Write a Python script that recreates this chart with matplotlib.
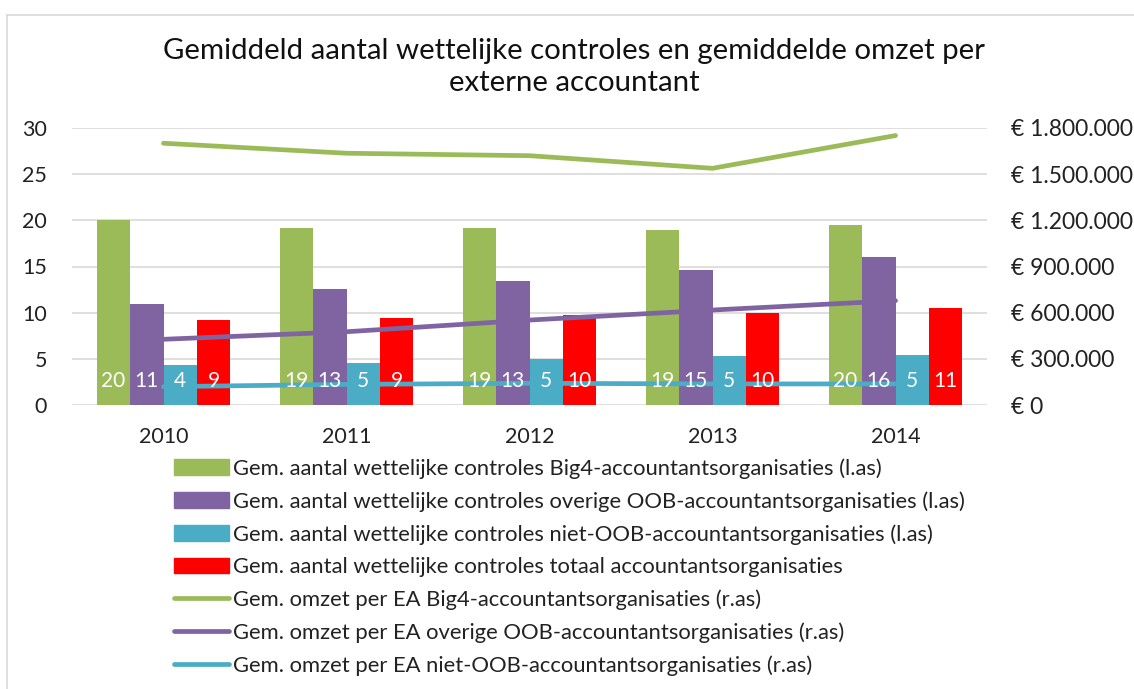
import numpy as np
import matplotlib
matplotlib.use('Agg')
import matplotlib.pyplot as plt
from matplotlib.ticker import FuncFormatter
from matplotlib.lines import Line2D
from matplotlib.patches import Patch

jaren = ['2010', '2011', '2012', '2013', '2014']

# linker as: gemiddeld aantal wettelijke controles
big4_controles = [20.0, 19.2, 19.2, 19.0, 19.5]
oob_controles = [10.9, 12.6, 13.4, 14.6, 16.0]
niet_oob_controles = [4.3, 4.6, 5.0, 5.3, 5.4]
totaal_controles = [9.2, 9.46, 9.7, 10.0, 10.54]

# rechter as: gemiddelde omzet per EA
big4_omzet = [1701000, 1636000, 1620000, 1538000, 1751000]
oob_omzet = [427000, 476000, 552000, 617000, 678000]
niet_oob_omzet = [119000, 134000, 141000, 137000, 137000]

labels = ['Gem. aantal wettelijke controles Big4-accountantsorganisaties (l.as)',
          'Gem. aantal wettelijke controles overige OOB-accountantsorganisaties (l.as)',
          'Gem. aantal wettelijke controles niet-OOB-accountantsorganisaties (l.as)',
          'Gem. aantal wettelijke controles totaal accountantsorganisaties',
          'Gem. omzet per EA Big4-accountantsorganisaties (r.as)',
          'Gem. omzet per EA overige OOB-accountantsorganisaties (r.as)',
          'Gem. omzet per EA niet-OOB-accountantsorganisaties (r.as)']

groen = '#9BBB59'
paars = '#8064A2'
blauw = '#4BACC6'
rood = '#FF0000'

plt.rcParams['font.family'] = ['Lato', 'DejaVu Sans']
plt.rcParams['font.size'] = 13

fig = plt.figure(figsize=(11.34, 6.89), dpi=100)
ax = fig.add_axes([72 / 1134, 1 - 405 / 689, 915 / 1134, 277 / 689])
ax2 = ax.twinx()

xpos = np.arange(len(jaren))
w = 0.182
bar_series = [big4_controles, oob_controles, niet_oob_controles, totaal_controles]
bar_colors = [groen, paars, blauw, rood]
for i, (vals, kleur) in enumerate(zip(bar_series, bar_colors)):
    ax.bar(xpos + (i - 1.5) * w, vals, w, color=kleur, zorder=2)
    for x, v in zip(xpos, vals):
        # labels op ax2 zodat ze boven de lijnen liggen
        ax2.annotate(f'{v:.0f}', xy=(x + (i - 1.5) * w, 0), xytext=(0, 17),
                     textcoords='offset points', ha='center', va='center',
                     color='white', fontsize=15, zorder=5)

ax2.plot(xpos, big4_omzet, color=groen, lw=3.4, solid_capstyle='round')
ax2.plot(xpos, oob_omzet, color=paars, lw=3.4, solid_capstyle='round')
ax2.plot(xpos, niet_oob_omzet, color=blauw, lw=3.4, solid_capstyle='round')

ax.set_xlim(-0.5, len(jaren) - 0.5)
ax.set_ylim(0, 30)
ax.set_yticks([0, 5, 10, 15, 20, 25, 30])
ax2.set_ylim(0, 1800000)
ax2.set_yticks([0, 300000, 600000, 900000, 1200000, 1500000, 1800000])
ax2.yaxis.set_major_formatter(FuncFormatter(lambda v, p: '€ ' + f'{v:,.0f}'.replace(',', '.')))
ax.set_xticks(xpos)
ax.set_xticklabels(jaren)

ax.grid(axis='y', color='#D9D9D9', lw=1.2, zorder=0)
ax.set_axisbelow(True)
for a in (ax, ax2):
    for s in a.spines.values():
        s.set_visible(False)
ax.tick_params(axis='both', length=0, labelsize=15.5, colors='#222222')
ax.tick_params(axis='y', pad=18)
ax.tick_params(axis='x', pad=16)
ax2.tick_params(axis='y', length=0, labelsize=16.5, colors='#222222', pad=17)

fig.text(574 / 1134, 1 - 67 / 689, 'Gemiddeld aantal wettelijke controles en gemiddelde omzet per\nexterne accountant',
         ha='center', va='center', fontsize=21.2, color='#111111', linespacing=1.25)

handles = [Patch(color=c) for c in bar_colors] + \
          [Line2D([], [], color=c, lw=3.4, solid_capstyle='round') for c in [groen, paars, blauw]]
fig.legend(handles, labels, loc='upper left', bbox_to_anchor=(174 / 1134, 1 - 458 / 689),
           frameon=False, fontsize=15.8, handlelength=2.5, handletextpad=0.2,
           labelspacing=0.565, borderpad=0, borderaxespad=0, labelcolor='#222222')

# kader van de grafiek
fig.add_artist(Line2D([7 / 1134, 7 / 1134], [0, 1 - 15 / 689], color='#D9D9D9', lw=1.2))
fig.add_artist(Line2D([7 / 1134, 1], [1 - 15 / 689, 1 - 15 / 689], color='#D9D9D9', lw=1.2))

fig.savefig('out.png', dpi=100)
